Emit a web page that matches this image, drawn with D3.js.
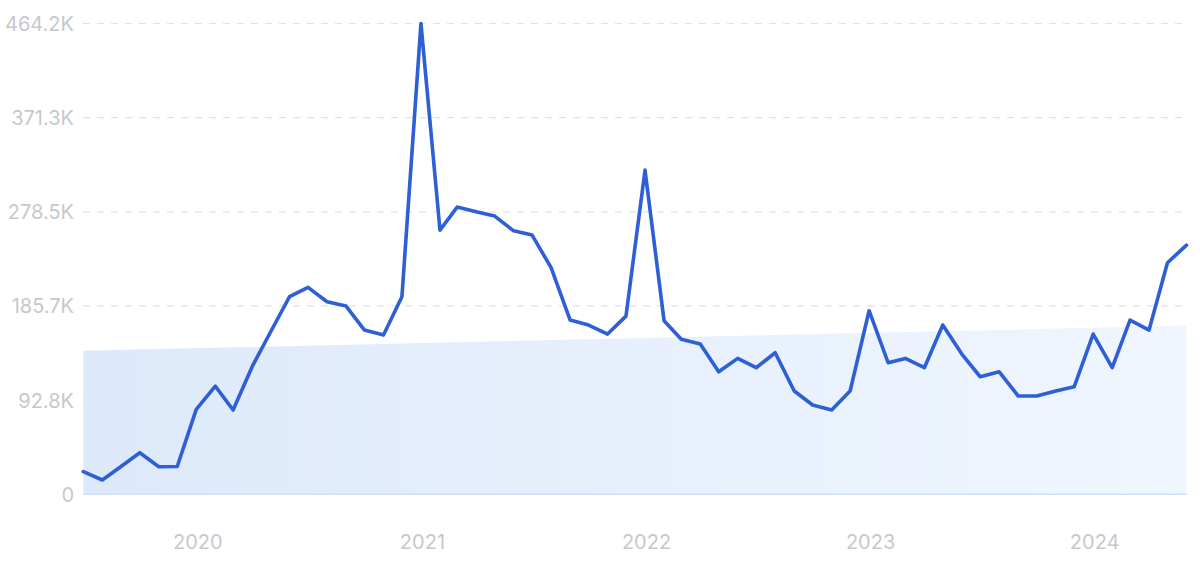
<!DOCTYPE html>
<html>
<head>
<meta charset="utf-8">
<script src="https://cdn.jsdelivr.net/npm/d3@7"></script>
<style>
  html, body { margin: 0; padding: 0; background: #ffffff; }
  svg { display: block; }
</style>
</head>
<body>
<svg id="chart" width="1200" height="562"></svg>
<script>
// ---- data ----
const startMonth = "2019-07";
const values = [
  22.3, 14.1, 27.6, 41.0, 27.2, 27.4, 83.8, 106.7, 83.1, 125.8, 160.0, 195.0,
  204.0, 189.8, 185.6, 161.9, 157.0, 194.8, 464.2, 260.5, 283.2, 278.7, 274.3, 259.8,
  255.6, 223.5, 171.8, 166.9, 158.0, 175.7, 319.6, 171.1, 152.8, 148.1, 120.8, 134.0,
  124.8, 139.6, 101.8, 88.0, 83.1, 101.8, 181.0, 129.7, 134.0, 124.8, 166.9, 138.3,
  115.9, 120.8, 96.9, 96.9, 101.8, 106.0, 158.0, 124.8, 171.8, 161.9, 228.3, 245.7
];
const trendValues = [141.5, 166.4];          // linear trend band: start, end (K)
const yTickValues = [0, 92.8, 185.7, 278.5, 371.3, 464.2];
const yTickLabels = ["0", "92.8K", "185.7K", "278.5K", "371.3K", "464.2K"];
const xTickYears = [2020, 2021, 2022, 2023, 2024];

// ---- build ----
const parse = d3.timeParse("%Y-%m");
const t0 = parse(startMonth);
const data = values.map((v, i) => ({ date: d3.timeMonth.offset(t0, i), value: v }));
const t1 = data[data.length - 1].date;

const svg = d3.select("#chart");
const x = d3.scaleTime().domain([t0, t1]).range([83.3, 1186.5]);
const y = d3.scaleLinear().domain([0, 464.2]).range([494.3, 23.5]);

const defs = svg.append("defs");
const grad = defs.append("linearGradient").attr("id", "trendGrad")
  .attr("x1", "0%").attr("y1", "0%").attr("x2", "100%").attr("y2", "0%");
grad.append("stop").attr("offset", "0%").attr("stop-color", "#dde9fa");
grad.append("stop").attr("offset", "100%").attr("stop-color", "#f0f6fe");

// grid
svg.append("g").selectAll("line").data(yTickValues.slice(1)).join("line")
  .attr("x1", 83).attr("x2", 1187)
  .attr("y1", d => y(d)).attr("y2", d => y(d))
  .attr("stroke", "#dde3ee").attr("stroke-width", 1.2)
  .attr("stroke-dasharray", "7,7");

// trend band
const trendData = [
  { date: t0, value: trendValues[0] },
  { date: t1, value: trendValues[1] }
];
svg.append("path").datum(trendData)
  .attr("fill", "url(#trendGrad)")
  .attr("d", d3.area().x(d => x(d.date)).y0(y(0)).y1(d => y(d.value)));

// baseline
svg.append("line")
  .attr("x1", x(t0)).attr("x2", x(t1))
  .attr("y1", y(0)).attr("y2", y(0))
  .attr("stroke", "#cfe0f7").attr("stroke-width", 1.5);

// y axis labels
const yAxis = d3.axisLeft(y).tickValues(yTickValues)
  .tickFormat((d, i) => yTickLabels[i]).tickSize(0).tickPadding(0);
const gy = svg.append("g").attr("transform", "translate(74,0)").call(yAxis);
gy.select(".domain").remove();
gy.selectAll("text").attr("font-family", "Inter, 'Open Sans', sans-serif")
  .attr("font-size", 20).attr("fill", "#c6c8cd").attr("dy", "0.35em");

// x axis labels
const xAxis = d3.axisBottom(x)
  .tickValues(xTickYears.map(yy => new Date(yy, 0, 1)))
  .tickFormat(d3.timeFormat("%Y")).tickSize(0).tickPadding(0);
const gx = svg.append("g").attr("transform", "translate(1,0)").call(xAxis);
gx.select(".domain").remove();
gx.selectAll("text").attr("y", 549).attr("dy", 0)
  .attr("font-family", "Inter, 'Open Sans', sans-serif")
  .attr("font-size", 20).attr("fill", "#c6c8cd");

// line
svg.append("path").datum(data)
  .attr("fill", "none")
  .attr("stroke", "#2e5fd5")
  .attr("stroke-width", 3.6)
  .attr("stroke-linejoin", "round")
  .attr("stroke-linecap", "round")
  .attr("d", d3.line().x(d => x(d.date)).y(d => y(d.value)));
</script>
</body>
</html>
